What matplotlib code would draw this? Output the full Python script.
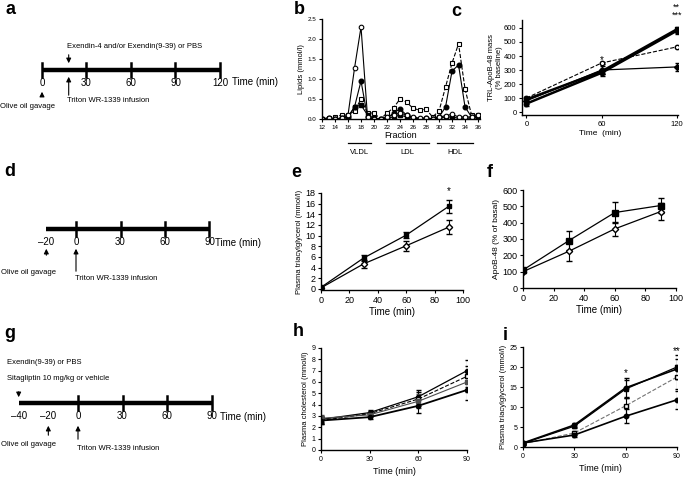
import numpy as np
import matplotlib.pyplot as plt
from matplotlib.transforms import blended_transform_factory as blend

plt.rcParams['font.family'] = ['Liberation Sans', 'DejaVu Sans']

W, H = 685, 478
fig = plt.figure(figsize=(6.85, 4.78), dpi=100)

# ---------------- data ----------------
# a: timeline (min)
a_ticks = [0, 30, 60, 90, 120]
a_inject = 18
# b: lipoprotein profile
b_fraction = list(range(12, 37))
b_open_circle = [0.0, 0.02, 0.0, 0.02, 0.1, 1.27, 2.3, 0.05, 0.0, 0.0, 0.05, 0.1, 0.15, 0.1, 0.05, 0.02,
                 0.02, 0.0, 0.05, 0.08, 0.12, 0.05, 0.05, 0.05, 0.1]
b_filled_circle = [0.0, 0.03, 0.0, 0.02, 0.05, 0.3, 0.95, 0.05, 0.0, 0.0, 0.02, 0.15, 0.25, 0.1, 0.03, 0.0,
                   0.02, 0.0, 0.05, 0.3, 1.2, 1.35, 0.3, 0.05, 0.05]
b_open_square = [0.0, 0.02, 0.05, 0.1, 0.1, 0.2, 0.5, 0.15, 0.15, 0.0, 0.15, 0.28, 0.5, 0.42, 0.27, 0.22,
                 0.25, 0.05, 0.2, 0.8, 1.4, 1.88, 0.75, 0.1, 0.1]
b_filled_square = [0.0, 0.0, 0.0, 0.02, 0.05, 0.3, 0.35, 0.1, 0.02, 0.0, 0.02, 0.05, 0.1, 0.05, 0.02, 0.0,
                   0.0, 0.0, 0.02, 0.05, 0.05, 0.02, 0.02, 0.02, 0.05]
b_classes = ['VLDL', 'LDL', 'HDL']
b_class_ranges = [(16, 19.5), (21.8, 28.4), (29.7, 35.3)]
# c: TRL-ApoB-48
c_time = [0, 60, 120]
c_sq = [90, 290, 590]
c_sq_err = [20, 20, 20]
c_ci = [60, 280, 580]
c_ci_err = [20, 25, 20]
c_open = [100, 350, 465]
c_open_err = [10, 10, 10]
c_tri = [80, 300, 322]
c_tri_err = [25, 30, 30]
# d: timeline
d_ticks = [0, 30, 60, 90]
d_labels = [-20, 0, 30, 60, 90]
# e: plasma TG
e_time = [0, 30, 60, 90]
e_sq = [0.3, 5.8, 10.1, 15.5]
e_sq_err = [0.2, 0.5, 0.5, 1.2]
e_open = [0.2, 4.7, 8.1, 11.6]
e_open_err = [0.2, 0.8, 0.9, 1.3]
# f: ApoB-48
f_time = [0, 30, 60, 90]
f_sq = [110, 290, 462, 505]
f_sq_err = [15, 60, 65, 45]
f_open = [100, 225, 362, 468]
f_open_err = [10, 60, 45, 50]
# g: timeline
g_ticks = [0, 30, 60, 90]
g_labels = [-40, -20, 0, 30, 60, 90]
# h: plasma cholesterol
h_time = [0, 30, 60, 90]
h_1 = [2.7, 3.3, 4.7, 7.0]
h_2 = [2.6, 3.2, 4.5, 6.5]
h_3 = [2.8, 3.1, 4.3, 6.0]
h_4 = [2.6, 2.9, 3.9, 5.3]
h_err = [0.3, 0.2, 0.6, 0.9]
# i: plasma TG
i_time = [0, 30, 60, 90]
i_1 = [1.0, 5.5, 14.8, 19.5]
i_2 = [0.8, 3.5, 10.3, 17.5]
i_3 = [1.0, 3.0, 7.7, 11.8]
i_4 = [0.9, 5.2, 14.5, 20.0]
i_err1 = [0.3, 0.6, 2.5, 2.5]
i_err2 = [0.3, 0.5, 2.2, 3.0]
i_err3 = [0.3, 0.4, 1.7, 2.3]


def px_axes(x0, y0, x1, y1):
    return fig.add_axes([x0 / W, 1 - y1 / H, (x1 - x0) / W, (y1 - y0) / H])


def letter(x, y, s):
    fig.text(x / W, 1 - y / H, s, fontsize=13, fontweight='bold', ha='center', va='center')


def style(ax, size=4.5):
    for s in ['top', 'right']:
        ax.spines[s].set_visible(False)
    for s in ['left', 'bottom']:
        ax.spines[s].set_linewidth(1.0)
    ax.tick_params(labelsize=size, length=2.5, width=0.8, pad=1.5)


def timeline(region, zero_px, labels, ticks, y_line):
    x0, y0, x1, y1 = region
    s = 44.5 / 30
    ax = px_axes(*region)
    ax.set_xlim(-(zero_px - x0) / s, (x1 - zero_px) / s)
    ax.set_ylim(y1, y0)
    ax.axis('off')
    ax.plot([labels[0], labels[-1]], [y_line, y_line], color='black', lw=3.2, solid_capstyle='butt')
    for t in ticks:
        ax.plot([t, t], [y_line - 7, y_line + 7], color='black', lw=1.8)
    for t in labels:
        ax.text(t, y_line + 13, str(t).replace('-', '\u2013'), fontsize=7, ha='center', va='center')
    return ax


def arrow(ax, x, y_from, y_to):
    ax.annotate('', xy=(x, y_to), xytext=(x, y_from),
                arrowprops=dict(arrowstyle='-|>', color='black', lw=0.8, mutation_scale=7))


# ---------------- a ----------------
letter(10, 10, 'a')
ax = timeline((0, 0, 250, 150), 42, a_ticks, a_ticks, 70)
tr = blend(ax.transAxes, ax.transData)
ax.text(128, 82, 'Time (min)', fontsize=7, ha='left', va='center')
arrow(ax, a_inject, 52, 66)
ax.text(a_inject - 1, 47, 'Exendin-4 and/or Exendin(9-39) or PBS', fontsize=5.5, ha='left', va='center')
arrow(ax, a_inject, 98, 74)
ax.text(a_inject - 1, 100, 'Triton WR-1339 infusion', fontsize=5.5, ha='left', va='center')
arrow(ax, 0, 99, 89)
ax.text(0.0, 107, 'Olive oil gavage', fontsize=5.5, ha='left', va='center', transform=tr)

# ---------------- b ----------------
letter(299, 9, 'b')
ax = px_axes(322, 19, 480, 119)
style(ax, 4.5)
ax.plot(b_fraction, b_open_square, '--s', color='black', mfc='white', ms=3.3, lw=0.8, mew=0.8)
ax.plot(b_fraction, b_filled_square, '-s', color='black', ms=3.3, lw=0.8)
ax.plot(b_fraction, b_filled_circle, '-o', color='black', ms=3.3, lw=0.8)
ax.plot(b_fraction, b_open_circle, '-o', color='black', mfc='white', ms=3.3, lw=0.8, mew=0.8)
ax.set_xlim(12, 36.3)
ax.set_ylim(0, 2.5)
ax.set_xticks(range(12, 37, 2))
ax.set_yticks([0, 0.5, 1.0, 1.5, 2.0, 2.5])
ax.set_yticklabels(['0.0', '0.5', '1.0', '1.5', '2.0', '2.5'])
ax.set_xlabel('Fraction', fontsize=6.5, labelpad=1)
ax.set_ylabel('Lipids (mmol/l)', fontsize=5.5, labelpad=2)
trb = blend(ax.transData, ax.transAxes)
for name, (lo, hi) in zip(b_classes, b_class_ranges):
    ax.plot([lo, hi], [-0.24, -0.24], color='black', lw=0.9, transform=trb, clip_on=False)
    ax.text((lo + hi) / 2, -0.33, name, fontsize=5.5, ha='center', va='center', transform=trb)

# ---------------- c ----------------
letter(456, 11, 'c')
ax = px_axes(522, 20, 678, 115)
style(ax, 5.5)
ax.errorbar(c_time, c_tri, yerr=c_tri_err, fmt='-D', color='black', ms=3, lw=0.9, capsize=1.8, elinewidth=0.8)
ax.errorbar(c_time, c_open, yerr=c_open_err, fmt='--o', color='black', mfc='white', ms=3.2, lw=0.8,
            capsize=1.8, elinewidth=0.8)
ax.errorbar(c_time, c_ci, yerr=c_ci_err, fmt='-o', color='black', ms=3.2, lw=1.8, capsize=1.8, elinewidth=0.8)
ax.errorbar(c_time, c_sq, yerr=c_sq_err, fmt='-s', color='black', ms=3.2, lw=1.8, capsize=1.8, elinewidth=0.8)
ax.set_xlim(-3.5, 121)
ax.set_ylim(-21, 657)
ax.set_xticks(c_time)
ax.set_yticks(range(0, 601, 100))
ax.set_xlabel('Time  (min)', fontsize=6, labelpad=2)
ax.set_ylabel('TRL-ApoB-48 mass\n(% baseline)', fontsize=5.5, labelpad=1, linespacing=1.1)
ax.text(120, 745, '**', fontsize=6.5, ha='center', va='center', clip_on=False)
ax.text(120, 690, '***', fontsize=6.5, ha='center', va='center', clip_on=False)
ax.text(60, 370, '*', fontsize=7, ha='center', va='center')

# ---------------- d ----------------
letter(10, 172, 'd')
ax = timeline((0, 150, 250, 300), 76, d_labels, d_ticks, 229)
tr = blend(ax.transAxes, ax.transData)
ax.text(94, 243, 'Time (min)', fontsize=7, ha='left', va='center')
arrow(ax, -20, 258, 246)
ax.text(0.005, 273, 'Olive oil gavage', fontsize=5.5, ha='left', va='center', transform=tr)
arrow(ax, 0, 274, 246)
ax.text(-1, 278, 'Triton WR-1339 infusion', fontsize=5.5, ha='left', va='center')

# ---------------- e ----------------
letter(296, 173, 'e')
ax = px_axes(321, 193, 463, 290)
style(ax, 6.5)
ax.errorbar(e_time, e_open, yerr=e_open_err, fmt='-D', color='black', mfc='white', ms=3.2, lw=0.9,
            capsize=2, elinewidth=0.8)
ax.errorbar(e_time, e_sq, yerr=e_sq_err, fmt='-s', color='black', ms=3.5, lw=0.9, capsize=2, elinewidth=0.8)
ax.set_xlim(0, 100)
ax.set_ylim(-0.2, 18)
ax.set_xticks(range(0, 101, 20))
ax.set_yticks(range(0, 19, 2))
ax.set_xlabel('Time (min)', fontsize=7, labelpad=2)
ax.set_ylabel('Plasma triacylglycerol (mmol/l)', fontsize=5.5, labelpad=2)
ax.text(90, 18.3, '*', fontsize=7, ha='center', va='center', clip_on=False)

# ---------------- f ----------------
letter(490, 173, 'f')
ax = px_axes(523, 190, 676, 288)
style(ax, 6.5)
ax.errorbar(f_time, f_open, yerr=f_open_err, fmt='-D', color='black', mfc='white', ms=3.2, lw=0.9,
            capsize=2, elinewidth=0.8)
ax.errorbar(f_time, f_sq, yerr=f_sq_err, fmt='-s', color='black', ms=3.8, lw=0.9, capsize=2, elinewidth=0.8)
ax.set_xlim(0, 100)
ax.set_ylim(0, 600)
ax.set_xticks(range(0, 101, 20))
ax.set_yticks(range(0, 601, 100))
ax.set_xlabel('Time (min)', fontsize=7, labelpad=2)
ax.set_ylabel('ApoB-48 (% of basal)', fontsize=6, labelpad=2)

# ---------------- g ----------------
letter(10, 333, 'g')
ax = timeline((0, 300, 250, 478), 78, g_labels, g_ticks, 403)
tr = blend(ax.transAxes, ax.transData)
ax.text(96, 417, 'Time (min)', fontsize=7, ha='left', va='center')
ax.text(-48, 363, 'Exendin(9-39) or PBS', fontsize=5.5, ha='left', va='center')
ax.text(-48, 379, 'Sitagliptin 10 mg/kg or vehicle', fontsize=5.5, ha='left', va='center')
arrow(ax, -40, 389, 400)
arrow(ax, -20, 438, 423)
ax.text(0.005, 444, 'Olive oil gavage', fontsize=5.5, ha='left', va='center', transform=tr)
arrow(ax, 0, 442, 423)
ax.text(-1, 448, 'Triton WR-1339 infusion', fontsize=5.5, ha='left', va='center')

# ---------------- h ----------------
letter(298, 331, 'h')
ax = px_axes(321, 348, 467, 450)
style(ax, 5)
ax.errorbar(h_time, h_1, yerr=h_err, fmt='-o', color='black', ms=3, lw=0.9, capsize=1.8, elinewidth=0.8)
ax.errorbar(h_time, h_2, yerr=h_err, fmt='--s', color='black', mfc='white', ms=3, lw=0.8, capsize=1.8,
            elinewidth=0.8)
ax.errorbar(h_time, h_3, yerr=h_err, fmt='-s', color='0.3', ms=3, lw=0.8, capsize=1.8, elinewidth=0.8)
ax.errorbar(h_time, h_4, yerr=h_err, fmt='-o', color='black', ms=3, lw=1.3, capsize=1.8, elinewidth=0.8)
ax.set_xlim(0, 90)
ax.set_ylim(0, 9)
ax.set_xticks(h_time)
ax.set_yticks(range(0, 10))
ax.set_xlabel('Time (min)', fontsize=6.5, labelpad=3)
ax.set_ylabel('Plasma cholesterol (mmol/l)', fontsize=5.5, labelpad=2)

# ---------------- i ----------------
letter(505, 336, 'i')
ax = px_axes(523, 347, 677, 447)
style(ax, 5)
ax.errorbar(i_time, i_2, yerr=i_err2, fmt='--s', color='0.45', mfc='white', mec='black', ms=3.2, lw=0.8,
            capsize=1.8, elinewidth=0.8, ecolor='black')
ax.errorbar(i_time, i_4, yerr=i_err2, fmt='-s', color='black', ms=3.2, lw=0.9, capsize=1.8, elinewidth=0.8)
ax.errorbar(i_time, i_1, yerr=i_err1, fmt='-o', color='black', ms=3.2, lw=1.2, capsize=1.8, elinewidth=0.8)
ax.errorbar(i_time, i_3, yerr=i_err3, fmt='-o', color='black', ms=3.2, lw=1.2, capsize=1.8, elinewidth=0.8)
ax.set_xlim(0, 90)
ax.set_ylim(0, 25)
ax.set_xticks(i_time)
ax.set_yticks(range(0, 26, 5))
ax.set_xlabel('Time (min)', fontsize=6.5, labelpad=3)
ax.set_ylabel('Plasma triacylglycerol (mmol/l)', fontsize=5.5, labelpad=2)
ax.text(60, 18.6, '*', fontsize=7, ha='center', va='center')
ax.text(90, 24, '**', fontsize=7, ha='center', va='center', clip_on=False)

fig.savefig('out.png', dpi=100)
